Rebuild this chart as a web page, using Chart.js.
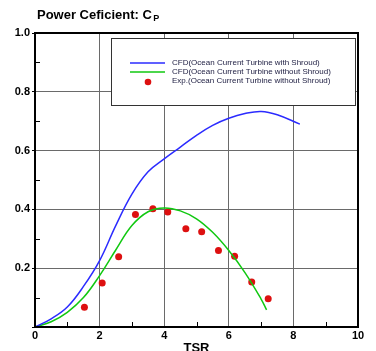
<!DOCTYPE html>
<html>
<head>
<meta charset="utf-8">
<script src="https://cdn.jsdelivr.net/npm/chart.js@4/dist/chart.umd.min.js"></script>
<style>
html,body{margin:0;padding:0;background:#fff;}
#wrap{width:376px;height:351px;position:relative;overflow:hidden;}
</style>
</head>
<body>
<div id="wrap"><canvas id="c" width="376" height="351"></canvas></div>
<script>
// ---- data ----
const titleMain = 'Power Ceficient: C';
const titleSub = 'P';
const xAxisTitle = 'TSR';
const seriesLabels = [
  'CFD(Ocean Current Turbine with Shroud)',
  'CFD(Ocean Current Turbine without Shroud)',
  'Exp.(Ocean Current Turbine without Shroud)'
];
const tsrWithShroud = [0, 0.5, 1.0, 1.5, 2.0, 2.5, 3.0, 3.5, 4.0, 4.5, 5.0, 5.5, 6.0, 6.5, 7.0, 7.5, 8.2];
const cpWithShroud  = [0, 0.028, 0.068, 0.138, 0.226, 0.345, 0.452, 0.528, 0.572, 0.612, 0.652, 0.686, 0.71, 0.726, 0.733, 0.722, 0.69];
const tsrWithoutShroud = [0, 0.5, 1.0, 1.5, 2.0, 2.5, 3.0, 3.5, 4.0, 4.5, 5.0, 5.5, 6.0, 6.5, 7.0, 7.17];
const cpWithoutShroud  = [0, 0.018, 0.05, 0.1, 0.175, 0.262, 0.345, 0.392, 0.405, 0.395, 0.368, 0.322, 0.26, 0.185, 0.095, 0.058];
const tsrExp = [1.53, 2.08, 2.59, 3.11, 3.65, 4.11, 4.67, 5.16, 5.68, 6.18, 6.71, 7.22];
const cpExp  = [0.067, 0.150, 0.239, 0.383, 0.402, 0.391, 0.334, 0.324, 0.260, 0.241, 0.153, 0.096];
const xRange = [0, 10];
const yRange = [0, 1];
const xMajorStep = 2;
const yMajorStep = 0.2;
const xMinorTicks = [1, 3, 5, 7, 9];
const yMinorTicks = [0.1, 0.3, 0.5, 0.7, 0.9];

const toPts = (xs, ys) => xs.map((x, i) => ({x: x, y: ys[i]}));
const FONT = '"Liberation Sans", Arial, sans-serif';

const decor = {
  id: 'decor',
  afterDraw(chart) {
    const ctx = chart.ctx;
    const a = chart.chartArea;
    const xs = chart.scales.x, ys = chart.scales.y;
    ctx.save();
    // minor ticks
    ctx.strokeStyle = '#000';
    ctx.lineWidth = 1;
    ctx.beginPath();
    xMinorTicks.forEach(v => {
      const px = Math.round(xs.getPixelForValue(v)) + 0.5;
      ctx.moveTo(px, a.bottom); ctx.lineTo(px, a.bottom - 5);
    });
    yMinorTicks.forEach(v => {
      const py = Math.round(ys.getPixelForValue(v)) + 0.5;
      ctx.moveTo(a.left, py); ctx.lineTo(a.left + 5, py);
    });
    ctx.stroke();
    // frame
    ctx.lineWidth = 2;
    ctx.strokeStyle = '#000';
    ctx.strokeRect(a.left, a.top, a.right - a.left, a.bottom - a.top);
    // legend box
    const lx = 111, ly = 38, lw = 244, lh = 67;
    ctx.fillStyle = '#fff';
    ctx.fillRect(lx, ly, lw, lh);
    ctx.lineWidth = 1;
    ctx.strokeStyle = '#333';
    ctx.strokeRect(lx + 0.5, ly + 0.5, lw, lh);
    const rows = [63, 72, 81];
    ctx.font = '8px ' + FONT;
    ctx.textBaseline = 'middle';
    ctx.textAlign = 'left';
    chart.data.datasets.forEach((ds, i) => {
      const y = rows[i];
      if (ds.showLine !== false) {
        ctx.strokeStyle = ds.borderColor;
        ctx.lineWidth = 1.5;
        ctx.beginPath();
        ctx.moveTo(130, y); ctx.lineTo(165, y);
        ctx.stroke();
      } else {
        ctx.fillStyle = ds.pointBackgroundColor;
        ctx.beginPath();
        ctx.arc(148, y + 1, 3.3, 0, Math.PI * 2);
        ctx.fill();
      }
      ctx.fillStyle = '#1c1c40';
      ctx.fillText(ds.label, 172, y);
    });
    // title
    ctx.fillStyle = '#000';
    ctx.textBaseline = 'alphabetic';
    ctx.font = 'bold 13px ' + FONT;
    ctx.fillText(titleMain, 37, 19);
    const w = ctx.measureText(titleMain).width;
    ctx.font = 'bold 9px ' + FONT;
    ctx.fillText(titleSub, 37 + w + 1.5, 21);
    ctx.restore();
  }
};

new Chart(document.getElementById('c'), {
  type: 'scatter',
  data: {
    datasets: [
      {
        label: seriesLabels[0],
        data: toPts(tsrWithShroud, cpWithShroud),
        showLine: true,
        borderColor: '#2b2bff',
        borderWidth: 1.5,
        pointRadius: 0,
        tension: 0.4,
        fill: false
      },
      {
        label: seriesLabels[1],
        data: toPts(tsrWithoutShroud, cpWithoutShroud),
        showLine: true,
        borderColor: '#10c810',
        borderWidth: 1.5,
        pointRadius: 0,
        tension: 0.4,
        fill: false
      },
      {
        label: seriesLabels[2],
        data: toPts(tsrExp, cpExp),
        showLine: false,
        pointRadius: 3.5,
        pointBackgroundColor: '#dd1010',
        pointBorderWidth: 0,
        borderColor: '#dd1010'
      }
    ]
  },
  options: {
    responsive: false,
    devicePixelRatio: 1,
    animation: false,
    layout: {padding: {top: 33, right: 18, left: 0, bottom: 0}},
    plugins: {legend: {display: false}, tooltip: {enabled: false}, title: {display: false}},
    scales: {
      x: {
        type: 'linear',
        min: xRange[0], max: xRange[1],
        afterFit(s) { s.height = 24; },
        ticks: {stepSize: xMajorStep, color: '#000', padding: 2, font: {family: FONT, size: 11, weight: 'bold'}},
        grid: {color: '#6a6a6a', lineWidth: 1, drawTicks: false},
        border: {display: false},
        title: {display: true, text: xAxisTitle, color: '#000', padding: {top: 0, bottom: -5}, font: {family: FONT, size: 13, weight: 'bold'}}
      },
      y: {
        type: 'linear',
        min: yRange[0], max: yRange[1],
        afterFit(s) { s.width = 35; },
        ticks: {stepSize: yMajorStep, color: '#000', padding: 2, font: {family: FONT, size: 11, weight: 'bold'},
          callback: v => (Math.abs(v) < 1e-9 ? '' : Number(v).toFixed(1))},
        grid: {color: '#6a6a6a', lineWidth: 1, tickLength: 3, tickColor: '#000'},
        border: {display: false}
      }
    }
  },
  plugins: [decor]
});
</script>
</body>
</html>
